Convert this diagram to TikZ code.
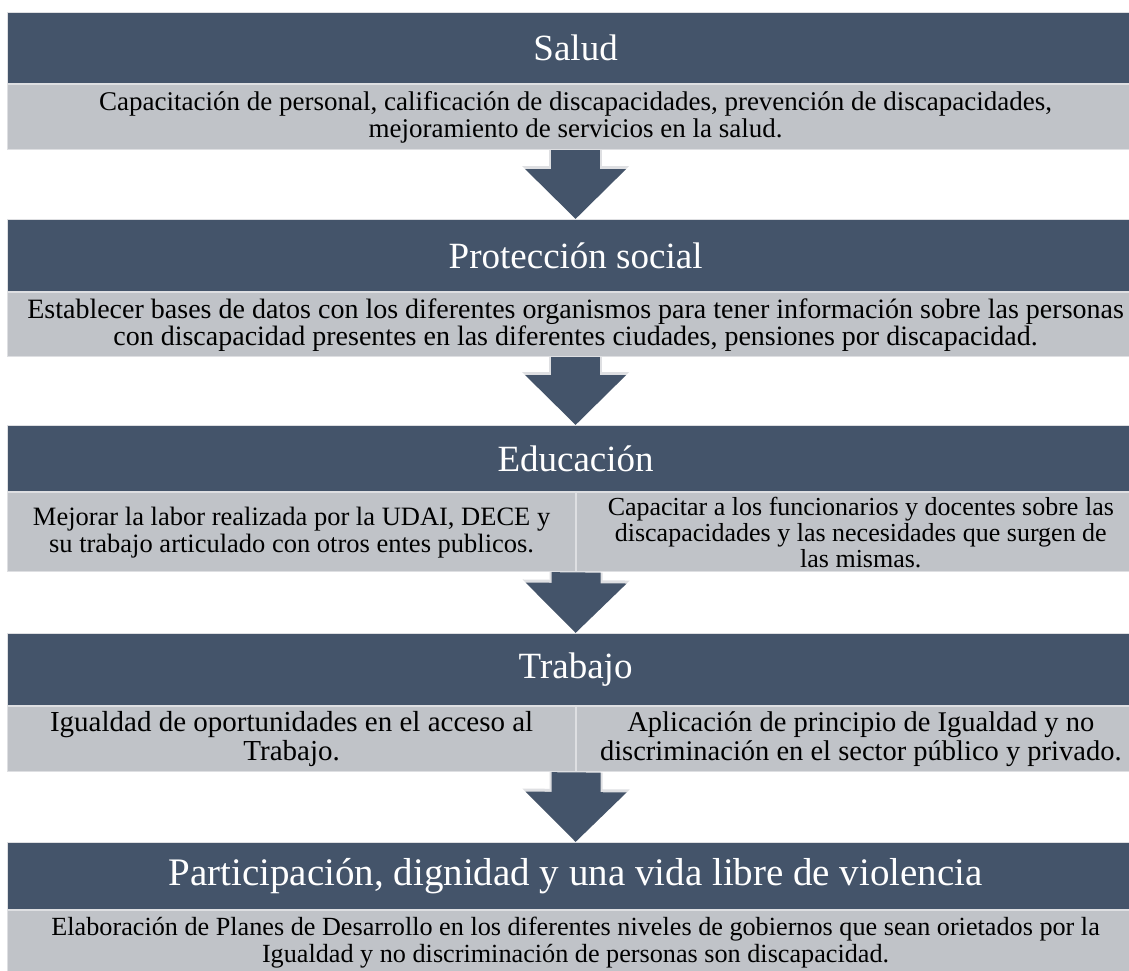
\documentclass[tikz,border=0pt]{standalone}
\usepackage{fontspec}
\setmainfont{Liberation Serif}
\usetikzlibrary{arrows.meta}
\definecolor{hdr}{HTML}{44546A}
\definecolor{bodyg}{HTML}{C0C3C8}
\definecolor{edgeg}{HTML}{DEDFE2}
\begin{document}
\begin{tikzpicture}[x=1pt,y=-1pt,
  hdrbox/.style={draw=edgeg,line width=1.2pt,fill=hdr,text=white,inner sep=0pt,
    anchor=north west,minimum width=1136pt,font=\fontsize{37}{40}\selectfont},
  bodybox/.style={draw=edgeg,line width=1.2pt,fill=bodyg,text=black,inner sep=0pt,
    anchor=north west,align=center},
  flowedge/.style={edgeg,line width=53pt,-{Triangle[width=104pt,length=53pt]}},
  flowarrow/.style={hdr,line width=49pt,-{Triangle[width=98pt,length=50pt]}}]
\useasboundingbox (0,0) rectangle (1129,970);
\clip (0,0) rectangle (1129,970);
\fill[white] (0,0) rectangle (1129,970);
% Salud
\node[hdrbox,minimum height=71pt] (sh) at (7,12) {Salud};
\node[bodybox,minimum width=1136pt,minimum height=65pt,font=\fontsize{27}{27.7}\selectfont] (sb) at (sh.south west)
  {Capacitación de personal, calificación de discapacidades, prevención de discapacidades,\\ mejoramiento de servicios en la salud.};
% Proteccion social
\node[hdrbox,minimum height=72pt] (ph) at (7,219) {Protección social};
\node[bodybox,minimum width=1136pt,minimum height=64pt,font=\fontsize{28}{27}\selectfont] (pb) at (ph.south west)
  {Establecer bases de datos con los diferentes organismos para tener información sobre las personas\\ con discapacidad presentes en las diferentes ciudades, pensiones por discapacidad.};
% Educacion
\node[hdrbox,minimum height=66pt] (eh) at (7,425) {Educación};
\node[bodybox,minimum width=568pt,minimum height=79pt,font=\fontsize{26.5}{27}\selectfont] (el) at (eh.south west)
  {Mejorar la labor realizada por la UDAI, DECE y\\ su trabajo articulado con otros entes publicos.};
\node[bodybox,minimum width=568pt,minimum height=79pt,font=\fontsize{26}{26}\selectfont] (er) at (el.north east)
  {Capacitar a los funcionarios y docentes sobre las\\ discapacidades y las necesidades que surgen de\\ las mismas.};
% Trabajo
\node[hdrbox,minimum height=72pt] (th) at (7,633) {Trabajo};
\node[bodybox,minimum width=568pt,minimum height=65pt,font=\fontsize{29}{29}\selectfont] (tl) at (th.south west)
  {Igualdad de oportunidades en el acceso al\\ Trabajo.};
\node[bodybox,minimum width=568pt,minimum height=65pt,font=\fontsize{28.5}{29}\selectfont] (tr) at (tl.north east)
  {Aplicación de principio de Igualdad y no\\ discriminación en el sector público y privado.};
% Participacion
\node[hdrbox,minimum height=67pt,font=\fontsize{39}{42}\selectfont] (ah) at (7,842) {Participación, dignidad y una vida libre de violencia};
\node[bodybox,minimum width=1136pt,minimum height=63pt,font=\fontsize{26.2}{27}\selectfont] (ab) at (ah.south west)
  {Elaboración de Planes de Desarrollo en los diferentes niveles de gobiernos que sean orietados por la\\ Igualdad y no discriminación de personas son discapacidad.};
% arrows
\foreach \a/\b in {sb.south/ph.north, pb.south/eh.north, el.south east/th.north, tl.south east/ah.north}{
  \draw[flowedge] (\a) -- (\b);
  \draw[flowarrow] (\a) -- (\b);
}
\end{tikzpicture}
\end{document}
